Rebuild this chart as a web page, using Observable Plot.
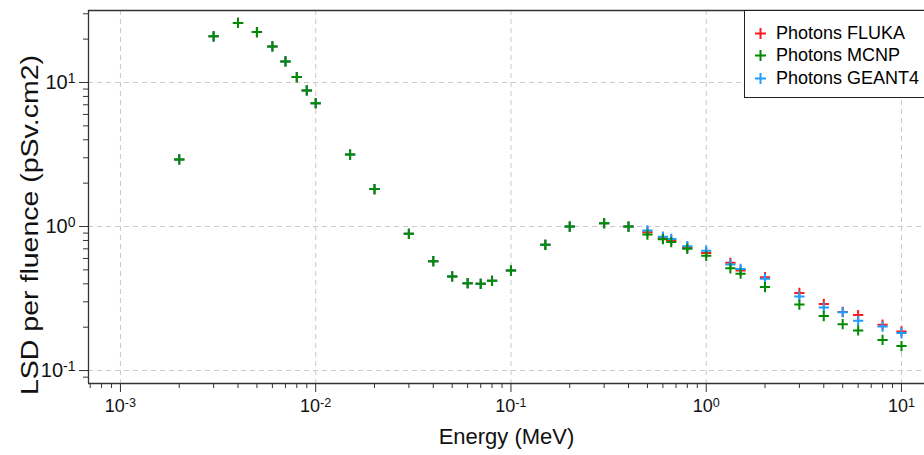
<!DOCTYPE html>
<html>
<head>
<meta charset="utf-8">
<script src="https://cdn.jsdelivr.net/npm/d3@7"></script>
<script src="https://cdn.jsdelivr.net/npm/@observablehq/plot@0.6"></script>
<style>
  html, body { margin: 0; padding: 0; background: #fff; overflow: hidden; }
  #wrap { position: relative; width: 924px; height: 455px; font-family: "Liberation Sans", Arial, sans-serif; }
  #legend { position: absolute; left: 744px; top: 10px; width: 200px; height: 88px;
            border: 1.3px solid #222; background: #fff; box-sizing: border-box; padding-top: 11px; }
  .row { display: flex; align-items: center; height: 22.5px; font-size: 18px; color: #000; }
  .row svg { margin-left: 10px; margin-right: 10px; }
</style>
</head>
<body>
<div id="wrap"></div>
<script>
// Photon energies (MeV)
const energy = [0.002, 0.003, 0.004, 0.005, 0.006, 0.007, 0.008, 0.009, 0.01, 0.015, 0.02,
  0.03, 0.04, 0.05, 0.06, 0.07, 0.08, 0.1, 0.15, 0.2, 0.3, 0.4, 0.5, 0.6, 0.662, 0.8, 1,
  1.33, 1.5, 2, 3, 4, 5, 6, 8, 10];
// LSD per fluence (pSv.cm2)
const mcnp = [2.92, 20.9, 25.9, 22.4, 17.8, 14.0, 10.9, 8.8, 7.18, 3.16, 1.82,
  0.89, 0.574, 0.45, 0.404, 0.40, 0.42, 0.495, 0.746, 1.0, 1.054, 1.0, 0.88, 0.816, 0.78, 0.70, 0.626,
  0.513, 0.47, 0.38, 0.287, 0.239, 0.21, 0.19, 0.163, 0.148];
const fluka = [2.92, 20.9, 25.9, 22.4, 17.8, 14.0, 10.9, 8.8, 7.18, 3.16, 1.82,
  0.89, 0.574, 0.45, 0.404, 0.40, 0.42, 0.495, 0.746, 1.0, 1.054, 1.0, 0.913, 0.83, 0.80, 0.715, 0.656,
  0.56, 0.495, 0.445, 0.346, 0.29, 0.255, 0.243, 0.208, 0.187];
const geant4 = [2.92, 20.9, 25.9, 22.4, 17.8, 14.0, 10.9, 8.8, 7.18, 3.16, 1.82,
  0.89, 0.574, 0.45, 0.404, 0.40, 0.42, 0.495, 0.746, 1.0, 1.054, 1.0, 0.94, 0.85, 0.82, 0.73, 0.68,
  0.545, 0.508, 0.434, 0.327, 0.274, 0.254, 0.222, 0.202, 0.182];

const seriesNames = ["Photons FLUKA", "Photons MCNP", "Photons GEANT4"];
const seriesColors = ["#ff1a1a", "#008c00", "#1e9cff"];

const xMajor = [1e-3, 1e-2, 1e-1, 1, 10];
const xMinor = [7e-4, 8e-4, 9e-4,
  2e-3, 3e-3, 4e-3, 5e-3, 6e-3, 7e-3, 8e-3, 9e-3,
  2e-2, 3e-2, 4e-2, 5e-2, 6e-2, 7e-2, 8e-2, 9e-2,
  0.2, 0.3, 0.4, 0.5, 0.6, 0.7, 0.8, 0.9,
  2, 3, 4, 5, 6, 7, 8, 9];
const yMajor = [0.1, 1, 10];
const yMinor = [0.09, 0.2, 0.3, 0.4, 0.5, 0.6, 0.7, 0.8, 0.9,
  2, 3, 4, 5, 6, 7, 8, 9, 20, 30];

const xDomain = [6.86e-4, 13.12];
const yDomain = [0.0813, 31.6];

const rows = (vals, name) => energy.map((e, i) => ({e, v: vals[i], s: name}));
const flukaRows = rows(fluka, seriesNames[0]);
const mcnpRows = rows(mcnp, seriesNames[1]);
const geantRows = rows(geant4, seriesNames[2]);

const fmt = d => "10^" + Math.round(Math.log10(d));
const axisColor = "#333";
const font = "Liberation Sans, Arial, sans-serif";
const yTitle = "LSD per fluence (pSv.cm2)";

const chart = Plot.plot({
  width: 924, height: 455,
  marginLeft: 88, marginRight: 0, marginTop: 10, marginBottom: 72,
  x: {type: "log", domain: xDomain, label: null},
  y: {type: "log", domain: yDomain, label: null},
  style: {fontFamily: font, background: "white", color: "#111"},
  marks: [
    Plot.gridX(xMajor, {stroke: "#c8c8c8", strokeOpacity: 1, strokeDasharray: "5,4"}),
    Plot.gridY(yMajor, {stroke: "#c8c8c8", strokeOpacity: 1, strokeDasharray: "5,4"}),
    Plot.ruleX([xDomain[0]], {stroke: axisColor, strokeWidth: 1.3}),
    Plot.ruleY([yDomain[0], yDomain[1]], {stroke: axisColor, strokeWidth: 1.3}),
    Plot.axisX(xMinor, {tickSize: 5, tickFormat: () => "", stroke: axisColor, label: null}),
    Plot.axisX(xMajor, {tickSize: 9, tickPadding: 7, fontSize: 18, tickFormat: fmt, stroke: axisColor, label: null}),
    Plot.axisY(yMinor, {tickSize: 5, tickFormat: () => "", stroke: axisColor, label: null}),
    Plot.axisY(yMajor, {tickSize: 9, tickPadding: 4, fontSize: 20, tickFormat: fmt, stroke: axisColor, label: null}),
    Plot.dot(flukaRows, {x: "e", y: "v", symbol: "plus", r: 3.4, stroke: seriesColors[0], strokeWidth: 2}),
    Plot.dot(geantRows, {x: "e", y: "v", symbol: "plus", r: 3.4, stroke: seriesColors[2], strokeWidth: 2}),
    Plot.dot(mcnpRows, {x: "e", y: "v", symbol: "plus", r: 3.4, stroke: seriesColors[1], strokeWidth: 2}),
    Plot.text(["Energy (MeV)"], {frameAnchor: "bottom", dy: 60, fontSize: 22, fill: "#111"}),
    Plot.text([yTitle], {frameAnchor: "left", textAnchor: "middle", dx: -58, dy: 28, rotate: -90, fontSize: 23, fill: "#111"})
  ]
});

chart.querySelectorAll("text").forEach(t => {
  const s = t.textContent;
  // superscript exponents on tick labels
  if (/^10\^-?\d+$/.test(s)) {
    const exp = s.split("^")[1];
    t.textContent = "10";
    const ts = document.createElementNS("http://www.w3.org/2000/svg", "tspan");
    ts.setAttribute("dy", "-0.45em");
    ts.setAttribute("font-size", "70%");
    ts.textContent = exp;
    t.appendChild(ts);
  }
  // the vertical title is drawn taller in the reference
  if (s === yTitle) {
    t.setAttribute("textLength", "340");
    t.setAttribute("lengthAdjust", "spacingAndGlyphs");
  }
});

const wrap = document.getElementById("wrap");
wrap.appendChild(chart);

const legend = document.createElement("div");
legend.id = "legend";
seriesNames.forEach((name, i) => {
  const row = document.createElement("div");
  row.className = "row";
  row.innerHTML = `<svg width="11" height="11" viewBox="0 0 11 11"><path d="M0,5.5H11M5.5,0V11" stroke="${seriesColors[i]}" stroke-width="2"/></svg><span>${name}</span>`;
  legend.appendChild(row);
});
wrap.appendChild(legend);
</script>
</body>
</html>
